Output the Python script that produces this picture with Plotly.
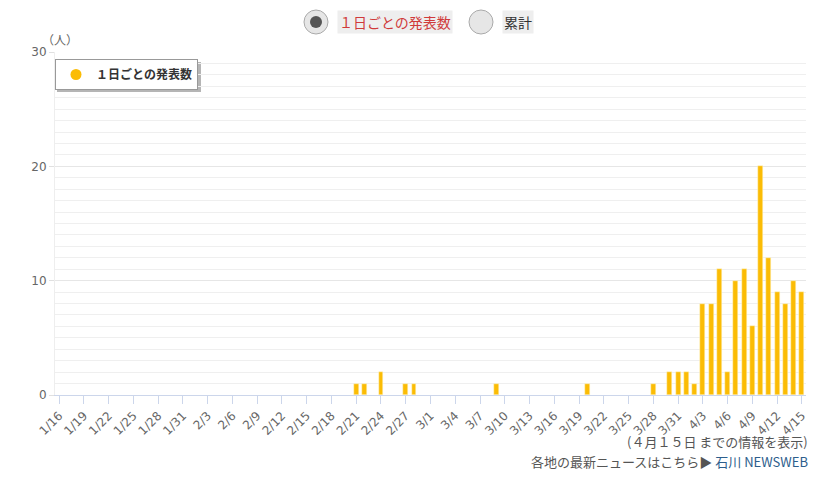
import pandas as pd
import plotly.graph_objects as go

# daily new cases (days not listed = 0)
report_dates = ['2020-02-21', '2020-02-22', '2020-02-24', '2020-02-27', '2020-02-28',
                '2020-03-09', '2020-03-20', '2020-03-28', '2020-03-30', '2020-03-31',
                '2020-04-01', '2020-04-02', '2020-04-03', '2020-04-04', '2020-04-05',
                '2020-04-06', '2020-04-07', '2020-04-08', '2020-04-09', '2020-04-10',
                '2020-04-11', '2020-04-12', '2020-04-13', '2020-04-14', '2020-04-15']
daily_counts = [1, 1, 2, 1, 1,
                1, 1, 1, 2, 2,
                2, 1, 8, 8, 11,
                2, 10, 11, 6, 20,
                12, 9, 8, 10, 9]

tick_labels = ['1/16', '1/19', '1/22', '1/25', '1/28', '1/31', '2/3', '2/6', '2/9',
               '2/12', '2/15', '2/18', '2/21', '2/24', '2/27', '3/1', '3/4', '3/7',
               '3/10', '3/13', '3/16', '3/19', '3/22', '3/25', '3/28', '3/31', '4/3',
               '4/6', '4/9', '4/12', '4/15']
y_ticks = [0, 10, 20, 30]

series_name = '１日ごとの発表数'
bar_color = '#fbbc05'
jp_font = 'Noto Sans CJK JP'

tick_vals = [pd.Timestamp('2020/' + t) for t in tick_labels]

# the page body has an 8px margin, so work in figure pixels = screen pixels - 8
OFF = 8
W, H = 836 - 2 * OFF, 478 - 2 * OFF
L, R, T, B = 55 - OFF, 806 - OFF, 52 - OFF, 395 - OFF


def px(x):
    # screen x -> paper x
    return (x - OFF - L) / (R - L)


def py(y):
    # screen y -> paper y
    return (B - (y - OFF)) / (B - T)


fig = go.Figure()

fig.add_trace(go.Bar(
    x = pd.to_datetime(report_dates),
    y = daily_counts,
    width = 0.6 * 86400000,
    marker = dict(color = bar_color, line = dict(color = '#fff6d0', width = 0.5)),
    name = series_name,
    showlegend = False,
))

# legend entry with round symbol
fig.add_trace(go.Scatter(
    x = [None], y = [None],
    mode = 'markers',
    marker = dict(color = bar_color, size = 11, symbol = 'circle'),
    name = series_name,
    showlegend = True,
))

fig.update_layout(
    width = W,
    height = H,
    margin = dict(l = L, r = W - R, t = T, b = H - B),
    paper_bgcolor = 'white',
    plot_bgcolor = 'white',
    font = dict(family = jp_font, color = '#333'),
    bargap = 0,
    showlegend = True,
    legend = dict(
        x = px(55), y = py(59),
        xanchor = 'left', yanchor = 'top',
        bgcolor = 'white',
        bordercolor = '#999',
        borderwidth = 1,
        itemwidth = 30,
        font = dict(size = 12, color = '#333', family = jp_font, weight = 'bold'),
    ),
    xaxis = dict(
        range = [pd.Timestamp('2020-01-15 12:00'), pd.Timestamp('2020-04-15 12:00')],
        tickvals = tick_vals,
        ticktext = tick_labels,
        tickangle = -45,
        ticks = 'outside',
        ticklen = 8,
        tickcolor = '#ccd6eb',
        tickfont = dict(size = 12, color = '#666', family = 'DejaVu Sans'),
        showline = True,
        linecolor = '#ccd6eb',
        showgrid = False,
        zeroline = False,
        fixedrange = True,
    ),
    yaxis = dict(
        range = [0, 30],
        tickvals = y_ticks,
        ticks = 'outside',
        ticklen = 5,
        tickcolor = '#e0e0e0',
        tickfont = dict(size = 12, color = '#666', family = 'DejaVu Sans'),
        showgrid = True,
        gridcolor = '#e6e6e6',
        minor = dict(dtick = 1, showgrid = True, gridcolor = '#efefef', ticks = ''),
        showline = True,
        linecolor = '#eeeeee',
        zeroline = False,
        fixedrange = True,
    ),
)

# legend drop shadow
fig.add_shape(type = 'rect', xref = 'paper', yref = 'paper', layer = 'below',
              x0 = px(57), x1 = px(201), y0 = py(92), y1 = py(62),
              fillcolor = '#b5b5b5', line = dict(width = 0))

# radio buttons above the chart
for cx, active in [(316, True), (481, False)]:
    fig.add_shape(type = 'circle', xref = 'paper', yref = 'paper',
                  xsizemode = 'pixel', ysizemode = 'pixel',
                  xanchor = px(cx), yanchor = py(22),
                  x0 = -12, x1 = 12, y0 = -12, y1 = 12,
                  fillcolor = '#e6e6e6', line = dict(color = '#aaaaaa', width = 1))
    if active:
        fig.add_shape(type = 'circle', xref = 'paper', yref = 'paper',
                      xsizemode = 'pixel', ysizemode = 'pixel',
                      xanchor = px(cx), yanchor = py(22),
                      x0 = -6, x1 = 6, y0 = -6, y1 = 6,
                      fillcolor = '#555555', line = dict(width = 0))

fig.add_annotation(xref = 'paper', yref = 'paper', x = px(337), y = py(22),
                   xanchor = 'left', yanchor = 'middle', showarrow = False,
                   text = series_name, bgcolor = '#eeeeee',
                   font = dict(size = 14, color = '#d03a3a', family = jp_font))
fig.add_annotation(xref = 'paper', yref = 'paper', x = px(502), y = py(22),
                   xanchor = 'left', yanchor = 'middle', showarrow = False,
                   text = '累計', bgcolor = '#eeeeee',
                   font = dict(size = 14, color = '#333', family = jp_font))

# unit label
fig.add_annotation(xref = 'paper', yref = 'paper', x = px(40), y = py(39),
                   xanchor = 'left', yanchor = 'middle', showarrow = False,
                   text = '（人）', font = dict(size = 12, color = '#666', family = jp_font))

# footer notes
fig.add_annotation(xref = 'paper', yref = 'paper', x = px(810), y = py(441),
                   xanchor = 'right', yanchor = 'middle', showarrow = False,
                   text = '(４月１５日 までの情報を表示)',
                   font = dict(size = 13, color = '#555', family = jp_font))
fig.add_annotation(xref = 'paper', yref = 'paper', x = px(810), y = py(461),
                   xanchor = 'right', yanchor = 'middle', showarrow = False,
                   text = '各地の最新ニュースはこちら▶ <span style="color:#2d5e8c">石川 NEWSWEB</span>',
                   font = dict(size = 13, color = '#555', family = jp_font))

fig.write_html("out.html")
